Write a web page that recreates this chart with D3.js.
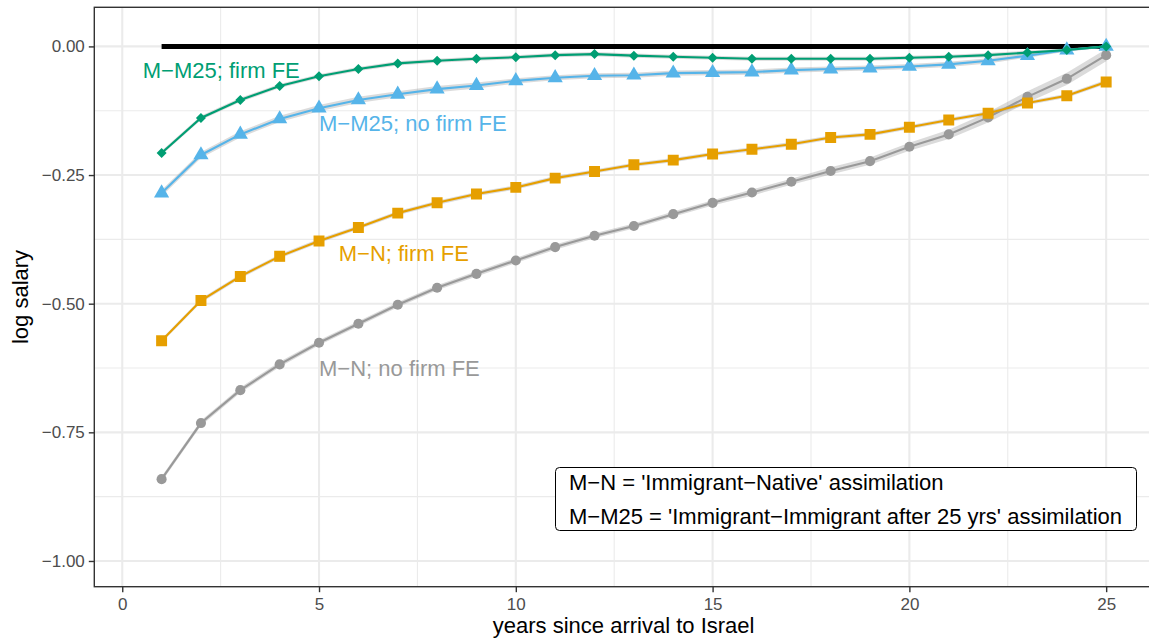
<!DOCTYPE html>
<html><head><meta charset="utf-8">
<script src="https://cdn.jsdelivr.net/npm/d3@7"></script>
<style>body{margin:0;background:#fff}svg{display:block;font-family:"Liberation Sans",Arial,Helvetica,sans-serif}</style>
</head><body><svg id="c" width="1149" height="642"></svg>
<script>
const years = d3.range(1, 26);
const mm25Firm   = [-0.207,-0.139,-0.104,-0.077,-0.058,-0.044,-0.033,-0.028,-0.024,-0.021,-0.017,-0.015,-0.018,-0.020,-0.022,-0.024,-0.024,-0.024,-0.024,-0.022,-0.020,-0.017,-0.012,-0.007,0.000];
const mm25NoFirm = [-0.285,-0.211,-0.171,-0.141,-0.120,-0.104,-0.093,-0.083,-0.076,-0.067,-0.061,-0.057,-0.056,-0.052,-0.051,-0.050,-0.046,-0.044,-0.042,-0.039,-0.035,-0.028,-0.018,-0.007,0.000];
const mnFirm     = [-0.572,-0.494,-0.447,-0.408,-0.378,-0.352,-0.324,-0.304,-0.287,-0.274,-0.256,-0.243,-0.230,-0.221,-0.209,-0.200,-0.190,-0.177,-0.171,-0.157,-0.143,-0.130,-0.110,-0.096,-0.069];
const mnNoFirm   = [-0.841,-0.732,-0.668,-0.618,-0.576,-0.539,-0.502,-0.469,-0.442,-0.416,-0.390,-0.368,-0.349,-0.326,-0.304,-0.284,-0.263,-0.242,-0.223,-0.195,-0.171,-0.138,-0.098,-0.063,-0.017];
// confidence band half-widths
const mm25FirmCI   = [0.004,0.004,0.004,0.004,0.004,0.004,0.004,0.004,0.004,0.004,0.004,0.004,0.004,0.004,0.004,0.004,0.004,0.004,0.004,0.004,0.004,0.004,0.004,0.003,0.002];
const mm25NoFirmCI = [0.006,0.006,0.006,0.006,0.006,0.006,0.006,0.006,0.006,0.005,0.005,0.005,0.005,0.005,0.005,0.005,0.005,0.005,0.005,0.005,0.005,0.005,0.004,0.003,0.002];
const mnFirmCI     = [0.004,0.004,0.004,0.004,0.004,0.004,0.004,0.004,0.004,0.004,0.004,0.004,0.004,0.004,0.004,0.004,0.004,0.004,0.004,0.004,0.004,0.004,0.004,0.004,0.004];
const mnNoFirmCI   = [0.005,0.005,0.005,0.005,0.005,0.005,0.005,0.005,0.005,0.005,0.005,0.005,0.005,0.005,0.005,0.006,0.006,0.007,0.007,0.008,0.009,0.010,0.011,0.012,0.012];
const xTicks = [0, 5, 10, 15, 20, 25];
const yTicks = [0, -0.25, -0.5, -0.75, -1.0];
const labels = ["M−M25; firm FE", "M−M25; no firm FE", "M−N; firm FE", "M−N; no firm FE"];
const legendLines = ["M−N = 'Immigrant−Native' assimilation", "M−M25 = 'Immigrant−Immigrant after 25 yrs' assimilation"];

const svg = d3.select("#c");
const L = 94.3, R = 1153, T = 7.3, B = 586.7;
const x = d3.scaleLinear().domain([-0.71, 26.19]).range([L, R]);
const y = d3.scaleLinear().domain([-1.05, 0.076]).range([B, T]);

svg.append("defs").append("clipPath").attr("id","clip").append("rect")
  .attr("x",L).attr("y",T).attr("width",R-L).attr("height",B-T);
const panel = svg.append("g").attr("clip-path","url(#clip)");

// minor grid
const xMinor = [2.5,7.5,12.5,17.5,22.5];
const yMinor = [-0.125,-0.375,-0.625,-0.875];
panel.selectAll(".xm").data(xMinor).join("line").attr("x1",d=>x(d)).attr("x2",d=>x(d)).attr("y1",T).attr("y2",B).attr("stroke","#EBEBEB").attr("stroke-width",1.1);
panel.selectAll(".ym").data(yMinor).join("line").attr("y1",d=>y(d)).attr("y2",d=>y(d)).attr("x1",L).attr("x2",R).attr("stroke","#EBEBEB").attr("stroke-width",1.1);
panel.selectAll(".xM").data(xTicks).join("line").attr("x1",d=>x(d)).attr("x2",d=>x(d)).attr("y1",T).attr("y2",B).attr("stroke","#EBEBEB").attr("stroke-width",2.1);
panel.selectAll(".yM").data(yTicks).join("line").attr("y1",d=>y(d)).attr("y2",d=>y(d)).attr("x1",L).attr("x2",R).attr("stroke","#EBEBEB").attr("stroke-width",2.1);

// zero reference line
panel.append("line").attr("x1",x(1)).attr("x2",x(25)).attr("y1",y(0)).attr("y2",y(0)).attr("stroke","#000").attr("stroke-width",5);

const series = [
  {vals: mnNoFirm, ci: mnNoFirmCI, color:"#999999", shape:"circle"},
  {vals: mnFirm, ci: mnFirmCI, color:"#E69F00", shape:"square"},
  {vals: mm25NoFirm, ci: mm25NoFirmCI, color:"#56B4E9", shape:"triangle"},
  {vals: mm25Firm, ci: mm25FirmCI, color:"#009E73", shape:"diamond"}
];
const area = d3.area().x((d,i)=>x(years[i])).y0(d=>y(d[0]-d[1])).y1(d=>y(d[0]+d[1]));
const line = d3.line().x((d,i)=>x(years[i])).y(d=>y(d));
series.forEach(s=>{
  panel.append("path").attr("d", area(s.vals.map((v,i)=>[v,s.ci[i]]))).attr("fill","#999999").attr("fill-opacity",0.35);
});
const sym = {circle:[d3.symbolCircle,80,0], square:[d3.symbolSquare,120,0], triangle:[d3.symbolTriangle,100,0], diamond:[d3.symbolSquare,50,45]};
series.forEach(s=>{
  panel.append("path").attr("d", line(s.vals)).attr("fill","none").attr("stroke",s.color).attr("stroke-width",2.1);
  const [t,size,rot] = sym[s.shape];
  panel.selectAll(null).data(s.vals).join("path")
    .attr("transform",(d,i)=>`translate(${x(years[i])},${y(d)}) rotate(${rot})`)
    .attr("d", d3.symbol().type(t).size(size)).attr("fill",s.color);
});

// series labels
const labPos = [{x:0.52,y:-0.062,c:"#009E73"},{x:5.0,y:-0.165,c:"#56B4E9"},{x:5.5,y:-0.417,c:"#E69F00"},{x:5.0,y:-0.640,c:"#999999"}];
labPos.forEach((p,i)=>{
  svg.append("text").attr("x",x(p.x)).attr("y",y(p.y)).attr("fill",p.c).attr("font-size",22).text(labels[i]);
});

// legend box
const lg = svg.append("g");
lg.append("rect").attr("x",555.5).attr("y",467.5).attr("width",581).attr("height",63).attr("rx",4).attr("fill","#fff").attr("stroke","#000").attr("stroke-width",1);
legendLines.forEach((t,i)=>{
  lg.append("text").attr("x",569).attr("y",490+i*34).attr("font-size",22).attr("fill","#000").text(t);
});

// panel border
svg.append("rect").attr("x",L).attr("y",T).attr("width",R-L).attr("height",B-T).attr("fill","none").attr("stroke","#333333").attr("stroke-width",1.4);

// axes
const xa = svg.append("g").attr("transform",`translate(0,${B})`).call(d3.axisBottom(x).tickValues(xTicks).tickSize(5.5).tickPadding(4).tickFormat(d3.format("d")));
const ya = svg.append("g").attr("transform",`translate(${L},0)`).call(d3.axisLeft(y).tickValues(yTicks).tickSize(5.5).tickPadding(4).tickFormat(d3.format(".2f")));
[xa,ya].forEach(a=>{
  a.select(".domain").remove();
  a.selectAll(".tick line").attr("stroke","#333333").attr("stroke-width",1.4);
  a.selectAll(".tick text").attr("fill","#4D4D4D").attr("font-size",17).attr("font-family","Liberation Sans, Arial, sans-serif");
});
xa.selectAll(".tick text").attr("dy","0.82em");

svg.append("text").attr("x",(L+R)/2).attr("y",633).attr("text-anchor","middle").attr("font-size",22).attr("fill","#000").text("years since arrival to Israel");
svg.append("text").attr("transform",`translate(28,${(T+B)/2}) rotate(-90)`).attr("text-anchor","middle").attr("font-size",22).attr("fill","#000").text("log salary");
</script></body></html>
